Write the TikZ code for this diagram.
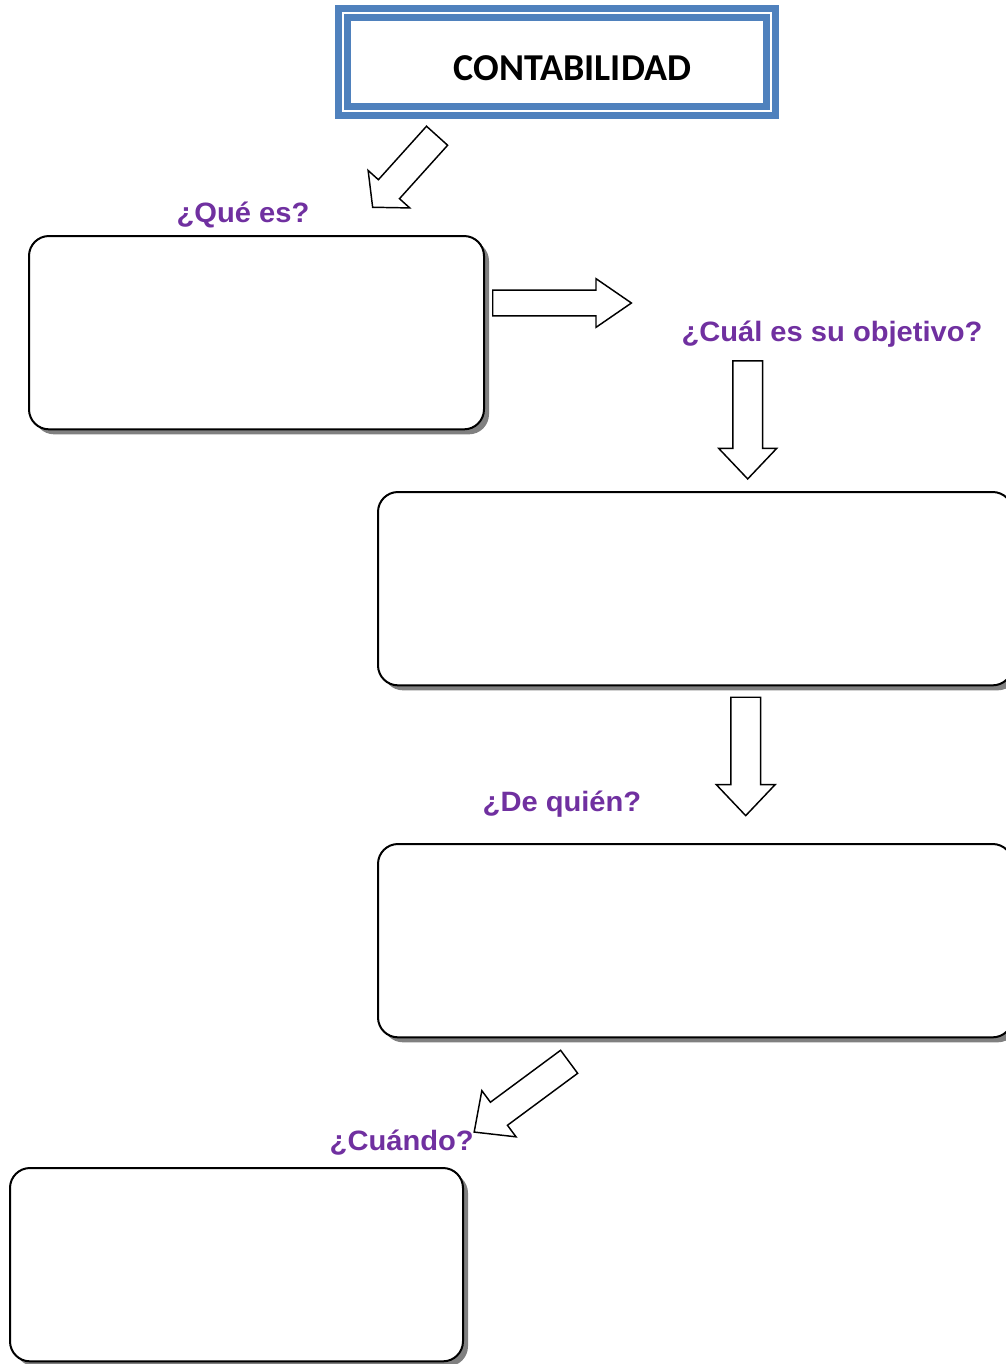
\documentclass[tikz,border=0pt]{standalone}
\usepackage{fontspec}
\setmainfont{Liberation Sans}
\newfontfamily\titulofont{Carlito}
\newfontfamily\preguntafont[FakeStretch=1.04]{Liberation Sans}
\usetikzlibrary{shapes,arrows,positioning,shadows}

\definecolor{marco}{HTML}{4F81BD}
\definecolor{morado}{HTML}{7030A0}

\tikzset{
  caja/.style={rectangle, rounded corners=15pt, draw, line width=1.5pt, fill=white,
    minimum width=#1, minimum height=145pt, anchor=north west,
    drop shadow={shadow xshift=3.75pt, shadow yshift=-3.75pt, fill=black!50, opacity=1}},
  pregunta/.style={font=\preguntafont\fontsize{21pt}{24pt}\selectfont\bfseries, text=morado, anchor=base, inner sep=0pt},
  flecha/.style={single arrow, draw, fill=white, line width=1.1pt, inner xsep=0pt,
    minimum width=0pt, anchor=tip},
}

\begin{document}
\begin{tikzpicture}[x=0.75pt, y=-0.75pt]
    \path[use as bounding box] (0,0) rectangle (1006,1364);
    \clip (0,0) rectangle (1006,1364);

    % titulo
    \node[rectangle, draw=marco, double=white, double distance=0.9pt, line width=5.2pt,
      minimum width=321pt, minimum height=73.5pt, inner sep=0pt] (titulo) at (557,62) {};
    \node[font=\titulofont\fontsize{28.5pt}{30pt}\selectfont\bfseries, anchor=base, inner sep=0pt]
      (titulotexto) at (572.5,80) {CONTABILIDAD};

    % cajas
    \node[caja=341.25pt] (cajaque) at (28,235) {};
    \node[caja=476pt] (cajaobjetivo) at (377,491) {};
    \node[caja=476pt] (cajaquien) at (377,843) {};
    \node[caja=339.75pt] (cajacuando) at (9,1167) {};

    % preguntas
    \node[pregunta] (que) at (243,222) {¿Qué es?};
    \node[pregunta] (objetivo) at (832,341) {¿Cuál es su objetivo?};
    \node[pregunta] (quien) at (562,811) {¿De quién?};
    \node[pregunta] (cuando) at (401.7,1150) {¿Cuándo?};

    % flechas
    \node[flecha, rotate=228, minimum height=72.2pt, inner ysep=10.1pt,
      single arrow head extend=10.35pt, single arrow tip angle=98] (flechaque) at (372,208) {};
    \node[flecha, rotate=0, minimum height=104pt, inner ysep=9.1pt,
      single arrow head extend=8.6pt, single arrow tip angle=69] (flechaobjetivo) at (632.7,303) {};
    \node[flecha, rotate=-90, minimum height=88.5pt, inner ysep=10.6pt,
      single arrow head extend=10.6pt, single arrow tip angle=87] (flechabajo) at (747.7,480) {};
    \node[flecha, rotate=-90, minimum height=88.8pt, inner ysep=10.6pt,
      single arrow head extend=10.9pt, single arrow tip angle=87] (flechaquien) at (745.7,816.7) {};
    \node[flecha, rotate=216.5, minimum height=88.6pt, inner ysep=10.2pt,
      single arrow head extend=10.8pt, single arrow tip angle=86] (flechacuando) at (473.3,1132.7) {};
\end{tikzpicture}
\end{document}
